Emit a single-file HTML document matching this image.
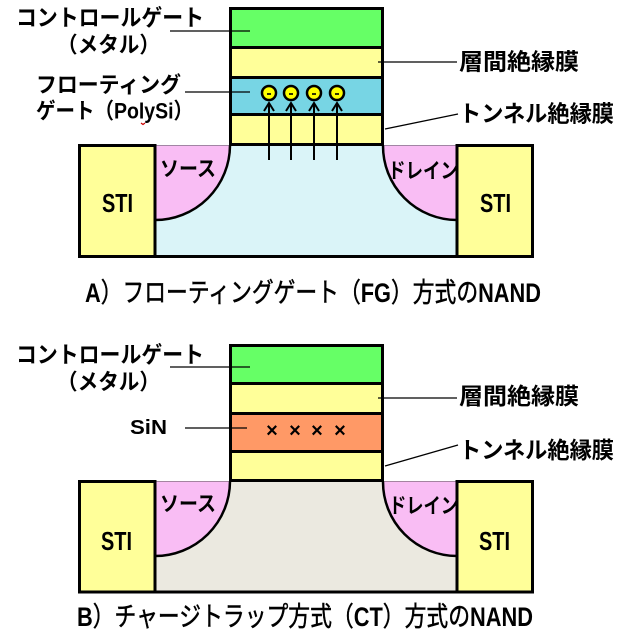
<!DOCTYPE html>
<html>
<head>
<meta charset="utf-8">
<style>
html,body{margin:0;padding:0;background:#fff;}
svg{display:block;}
text{font-family:"Liberation Sans","Noto Sans CJK JP",sans-serif;font-weight:bold;fill:#000;}
.cap{font-weight:normal;stroke:#000;stroke-width:0.5;}
.b{font-weight:bold;stroke-width:0;}
</style>
</head>
<body>
<svg width="630" height="636" viewBox="0 0 630 636" xmlns="http://www.w3.org/2000/svg">
<rect x="0" y="0" width="630" height="636" fill="#fff"/>

<!-- ============ A) FG ============ -->
<rect x="155" y="145" width="302" height="112" fill="#daf4f8"/>
<path d="M155,145.5 L230,145.5 A75,75 0 0 1 155,220 Z" fill="#f9bdf4" stroke="#8a6a88" stroke-width="0.8"/>
<path d="M230,145.5 A75,75 0 0 1 155,220" fill="none" stroke="#000" stroke-width="2.5"/>
<path d="M457,145.5 L383,145.5 A74,74 0 0 0 457,220 Z" fill="#f9bdf4" stroke="#8a6a88" stroke-width="0.8"/>
<path d="M383,145.5 A74,74 0 0 0 457,220" fill="none" stroke="#000" stroke-width="2.5"/>
<rect x="79.5" y="145.5" width="75.5" height="111" fill="#ffff99" stroke="#000" stroke-width="3"/>
<rect x="457" y="145.5" width="75.5" height="111" fill="#ffff99" stroke="#000" stroke-width="3"/>
<line x1="78" y1="256.5" x2="534" y2="256.5" stroke="#000" stroke-width="3"/>
<rect x="230.5" y="8.5" width="152" height="39" fill="#66ff66"/>
<rect x="230.5" y="47.5" width="152" height="30" fill="#ffff99"/>
<rect x="230.5" y="77.5" width="152" height="37" fill="#77d5e4"/>
<rect x="230.5" y="114.5" width="152" height="30" fill="#ffff99"/>
<rect x="230.5" y="8.5" width="152" height="136" fill="none" stroke="#000" stroke-width="3"/>
<line x1="230.5" y1="47.5" x2="382.5" y2="47.5" stroke="#000" stroke-width="3"/>
<line x1="230.5" y1="77.5" x2="382.5" y2="77.5" stroke="#000" stroke-width="3"/>
<line x1="230.5" y1="114.5" x2="382.5" y2="114.5" stroke="#000" stroke-width="3"/>
<g stroke="#000" stroke-width="2" fill="none">
<line x1="269" y1="160" x2="269" y2="103"/><polyline points="264,111 269,103 274,111"/>
<line x1="291" y1="160" x2="291" y2="103"/><polyline points="286,111 291,103 296,111"/>
<line x1="314" y1="160" x2="314" y2="103"/><polyline points="309,111 314,103 319,111"/>
<line x1="337" y1="160" x2="337" y2="103"/><polyline points="332,111 337,103 342,111"/>
</g>
<g fill="#ffff00" stroke="#000" stroke-width="2.5">
<circle cx="269" cy="93" r="7"/>
<circle cx="291" cy="93" r="7"/>
<circle cx="314" cy="93" r="7"/>
<circle cx="337" cy="93" r="7"/>
</g>
<g stroke="#000" stroke-width="1.6">
<line x1="267" y1="94" x2="271" y2="94"/>
<line x1="289" y1="94" x2="293" y2="94"/>
<line x1="312" y1="94" x2="316" y2="94"/>
<line x1="335" y1="94" x2="339" y2="94"/>
</g>
<g stroke="#000" stroke-width="1.3">
<line x1="170" y1="31" x2="250" y2="31"/>
<line x1="185" y1="92" x2="250" y2="92"/>
<line x1="378" y1="62" x2="457" y2="62"/>
<line x1="385" y1="129" x2="458" y2="114"/>
</g>
<text x="16" y="25.5" font-size="23" textLength="188" lengthAdjust="spacingAndGlyphs">コントロールゲート</text>
<text x="57" y="52.5" font-size="22" textLength="103" lengthAdjust="spacingAndGlyphs">（メタル）</text>
<text x="36" y="92.5" font-size="22" textLength="145" lengthAdjust="spacingAndGlyphs">フローティング</text>
<text x="36" y="118.5" font-size="22" textLength="157" lengthAdjust="spacingAndGlyphs">ゲート（PolySi）</text>
<path d="M141,123 l2,1.5 l2,-1.5" stroke="#cc0000" stroke-width="1.2" fill="none"/>
<text x="459" y="69.5" font-size="23" textLength="120" lengthAdjust="spacingAndGlyphs">層間絶縁膜</text>
<text x="459" y="121.5" font-size="23" textLength="155" lengthAdjust="spacingAndGlyphs">トンネル絶縁膜</text>
<text x="102" y="212" font-size="26" textLength="31" lengthAdjust="spacingAndGlyphs">STI</text>
<text x="480" y="212" font-size="26" textLength="31" lengthAdjust="spacingAndGlyphs">STI</text>
<text x="160" y="176" font-size="21" textLength="56" lengthAdjust="spacingAndGlyphs">ソース</text>
<text x="388" y="178" font-size="21" textLength="70" lengthAdjust="spacingAndGlyphs">ドレイン</text>
<text class="cap" x="85" y="302" font-size="27" textLength="456" lengthAdjust="spacingAndGlyphs"><tspan class="b">A</tspan>）フローティングゲート（<tspan class="b">FG</tspan>）方式の<tspan class="b">NAND</tspan></text>

<!-- ============ B) CT ============ -->
<rect x="155" y="481" width="302" height="111" fill="#ebe9e0"/>
<path d="M155,481.5 L230,481.5 A75,75 0 0 1 155,556 Z" fill="#f9bdf4" stroke="#8a6a88" stroke-width="0.8"/>
<path d="M230,481.5 A75,75 0 0 1 155,556" fill="none" stroke="#000" stroke-width="2.5"/>
<path d="M457,481.5 L383,481.5 A74,74 0 0 0 457,556 Z" fill="#f9bdf4" stroke="#8a6a88" stroke-width="0.8"/>
<path d="M383,481.5 A74,74 0 0 0 457,556" fill="none" stroke="#000" stroke-width="2.5"/>
<rect x="79.5" y="481.5" width="75.5" height="110.5" fill="#ffff99" stroke="#000" stroke-width="3"/>
<rect x="457" y="481.5" width="75.5" height="110.5" fill="#ffff99" stroke="#000" stroke-width="3"/>
<line x1="78" y1="592" x2="534" y2="592" stroke="#000" stroke-width="3"/>
<rect x="230.5" y="345.5" width="152" height="38" fill="#66ff66"/>
<rect x="230.5" y="383.5" width="152" height="30" fill="#ffff99"/>
<rect x="230.5" y="413.5" width="152" height="38" fill="#ff9966"/>
<rect x="230.5" y="451.5" width="152" height="29" fill="#ffff99"/>
<rect x="230.5" y="345.5" width="152" height="135" fill="none" stroke="#000" stroke-width="3"/>
<line x1="230.5" y1="383.5" x2="382.5" y2="383.5" stroke="#000" stroke-width="3"/>
<line x1="230.5" y1="413.5" x2="382.5" y2="413.5" stroke="#000" stroke-width="3"/>
<line x1="230.5" y1="451.5" x2="382.5" y2="451.5" stroke="#000" stroke-width="3"/>
<text x="272" y="437" font-size="20" text-anchor="middle">×</text>
<text x="295" y="437" font-size="20" text-anchor="middle">×</text>
<text x="317" y="437" font-size="20" text-anchor="middle">×</text>
<text x="340" y="437" font-size="20" text-anchor="middle">×</text>
<g stroke="#000" stroke-width="1.3">
<line x1="170" y1="367" x2="250" y2="367"/>
<line x1="185" y1="428" x2="247" y2="428"/>
<line x1="378" y1="398" x2="457" y2="398"/>
<line x1="385" y1="466" x2="458" y2="445"/>
</g>
<text x="16" y="362.5" font-size="23" textLength="188" lengthAdjust="spacingAndGlyphs">コントロールゲート</text>
<text x="57" y="389.5" font-size="22" textLength="103" lengthAdjust="spacingAndGlyphs">（メタル）</text>
<text x="130" y="434" font-size="20" textLength="37" lengthAdjust="spacingAndGlyphs">SiN</text>
<text x="459" y="404" font-size="23" textLength="120" lengthAdjust="spacingAndGlyphs">層間絶縁膜</text>
<text x="459" y="458" font-size="23" textLength="155" lengthAdjust="spacingAndGlyphs">トンネル絶縁膜</text>
<text x="101" y="550" font-size="26" textLength="31" lengthAdjust="spacingAndGlyphs">STI</text>
<text x="479" y="550" font-size="26" textLength="31" lengthAdjust="spacingAndGlyphs">STI</text>
<text x="160" y="511" font-size="21" textLength="56" lengthAdjust="spacingAndGlyphs">ソース</text>
<text x="389" y="513" font-size="21" textLength="69" lengthAdjust="spacingAndGlyphs">ドレイン</text>
<text class="cap" x="77" y="626" font-size="27" textLength="456" lengthAdjust="spacingAndGlyphs"><tspan class="b">B</tspan>）チャージトラップ方式（<tspan class="b">CT</tspan>）方式の<tspan class="b">NAND</tspan></text>
</svg>
</body>
</html>
